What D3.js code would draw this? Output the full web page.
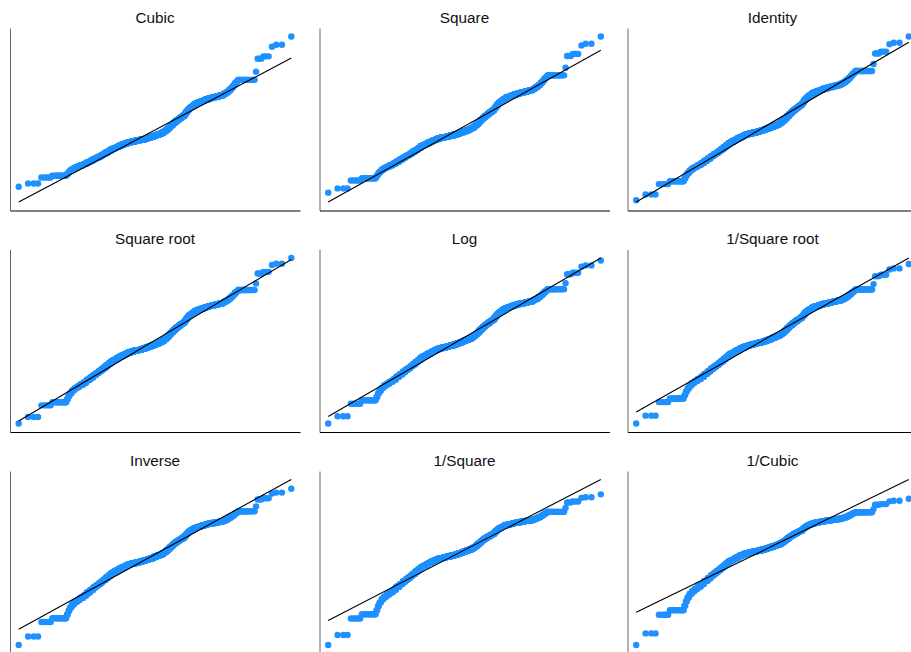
<!DOCTYPE html>
<html><head><meta charset="utf-8">
<script src="https://cdn.jsdelivr.net/npm/d3@7"></script>
<style>body{margin:0;background:#fff}svg{display:block}</style>
</head><body>
<svg id="chart" width="911" height="652"></svg>
<script>
const values = [63.00,64.30,66.64,67.27,67.90,68.58,69.14,69.70,70.15,70.53,70.94,71.39,71.95,72.45,72.96,73.37,73.75,74.13,74.54,74.99,75.44,75.89,76.22,76.56,76.90,77.24,77.51,77.80,78.02,78.20,78.36,78.52,78.70,78.92,79.15,79.37,79.64,79.89,80.16,80.50,80.83,81.17,81.55,82.00,82.41,82.81,83.20,83.53,83.87,84.21,84.55,85.00,85.45,85.89,86.23,86.50,86.79,87.13,87.42,87.63,87.87,88.14,88.37,88.59,88.82,89.04,89.38,89.72,90.17,90.62,91.07,91.52,91.86,92.19,93.77,96.17,96.58,98.27,98.60,100.00];
const counts = [1,3,5,13,2,2,3,4,5,6,8,8,10,10,10,10,10,10,12,13,13,14,18,16,19,20,20,25,25,25,25,25,25,25,25,25,25,25,25,20,15,15,15,15,15,15,15,15,15,15,15,10,10,10,10,10,12,13,15,15,15,15,15,15,13,12,7,6,5,4,3,3,2,19,1,3,3,1,2,1];
const panelTitles = ["Cubic","Square","Identity","Square root","Log","1/Square root","Inverse","1/Square","1/Cubic"];
const powers = [3,2,1,0.5,0,-0.5,-1,-2,-3];

// inverse standard normal CDF (Acklam)
function qnorm(p){
  const a=[-3.969683028665376e+01,2.209460984245205e+02,-2.759285104469687e+02,1.383577518672690e+02,-3.066479806614716e+01,2.506628277459239e+00];
  const b=[-5.447609879822406e+01,1.615858368580409e+02,-1.556989798598866e+02,6.680131188771972e+01,-1.328068155288572e+01];
  const c=[-7.784894002430293e-03,-3.223964580411365e-01,-2.400758277161838e+00,-2.549732539343734e+00,4.374664141464968e+00,2.938163982698783e+00];
  const d=[7.784695709041462e-03,3.224671290700398e-01,2.445134137142996e+00,3.754408661907416e+00];
  const pl=0.02425, ph=1-pl; let q,r;
  if(p<pl){q=Math.sqrt(-2*Math.log(p));return (((((c[0]*q+c[1])*q+c[2])*q+c[3])*q+c[4])*q+c[5])/((((d[0]*q+d[1])*q+d[2])*q+d[3])*q+1);}
  if(p<=ph){q=p-0.5;r=q*q;return (((((a[0]*r+a[1])*r+a[2])*r+a[3])*r+a[4])*r+a[5])*q/(((((b[0]*r+b[1])*r+b[2])*r+b[3])*r+b[4])*r+1);}
  q=Math.sqrt(-2*Math.log(1-p));return -(((((c[0]*q+c[1])*q+c[2])*q+c[3])*q+c[4])*q+c[5])/((((d[0]*q+d[1])*q+d[2])*q+d[3])*q+1);
}

const raw = d3.merge(values.map((v,k)=>Array(counts[k]).fill(v)));
const n = raw.length;
const tf = p => v => p===0 ? Math.log(v) : (p>0 ? Math.pow(v,p) : -Math.pow(v,p));

const svg = d3.select("#chart");
const colX=[10,319.5,627.5], rowY=[28,249.5,471];
const pw=290, ph=182.5, padX=8.7, padY=8.5;

powers.forEach((p,k)=>{
  const col=k%3,row=Math.floor(k/3);
  const g=svg.append("g").attr("transform",`translate(${colX[col]},${rowY[row]})`);
  const ys=raw.map(tf(p)).sort(d3.ascending);
  const m=d3.mean(ys), s=d3.deviation(ys);
  const xs=ys.map((_,i)=>m+s*qnorm((i+1)/(n+1)));
  const x=d3.scaleLinear().domain([xs[0],xs[n-1]]).range([padX,pw-padX]);
  const y=d3.scaleLinear().domain([Math.min(ys[0],xs[0]),Math.max(ys[n-1],xs[n-1])]).range([ph-padY,padY]);
  const pts=ys.map((v,i)=>({x:xs[i],y:v}));
  g.append("g").selectAll("circle").data(pts).join("circle")
    .attr("cx",d=>x(d.x)).attr("cy",d=>y(d.y)).attr("r",3.2).attr("fill","#1E90FF");
  g.append("path").datum([xs[0],xs[n-1]])
    .attr("d",d3.line().x(d=>x(d)).y(d=>y(d)))
    .attr("stroke","#000").attr("stroke-width",1.1).attr("fill","none");
  const ay=g.append("g").call(d3.axisLeft(d3.scaleLinear().range([ph,0])).tickValues([]).tickSizeOuter(0));
  ay.select(".domain").attr("stroke","#666");
  const ax=g.append("g").attr("transform",`translate(0,${ph})`).call(d3.axisBottom(d3.scaleLinear().range([0,pw])).tickValues([]).tickSizeOuter(0));
  ax.select(".domain").attr("stroke","#000");
  g.append("text").attr("x",pw/2).attr("y",-5.5).attr("text-anchor","middle")
    .attr("font-family","'Liberation Sans',Arial,Helvetica,sans-serif").attr("font-size","15.3px").attr("fill","#111")
    .text(panelTitles[k]);
});
</script>
</body></html>
